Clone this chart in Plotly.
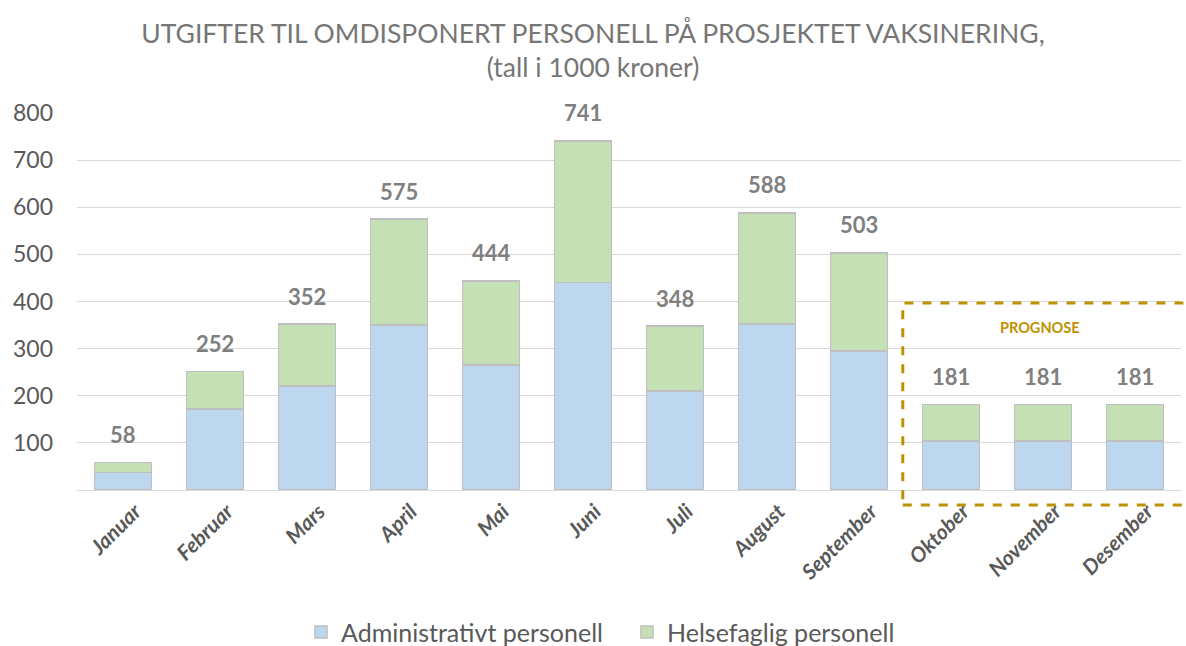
import plotly.graph_objects as go

months = ["Januar", "Februar", "Mars", "April", "Mai", "Juni", "Juli",
          "August", "September", "Oktober", "November", "Desember"]
admin = [37, 172, 221, 350, 265, 440, 210, 352, 295, 104, 104, 104]
helse = [21, 80, 131, 225, 179, 301, 138, 236, 208, 77, 77, 77]
totals = [58, 252, 352, 575, 444, 741, 348, 588, 503, 181, 181, 181]
ytick_vals = [100, 200, 300, 400, 500, 600, 700, 800]

FONT = "Lato"
GREY = "#595959"
LBL = "#7F7F7F"
GOLD = "#BF9000"

fig = go.Figure()
fig.add_trace(go.Bar(x=months, y=admin, name="Administrativt personell",
                     marker=dict(color="#BDD7EE", line=dict(color="#BFBFBF", width=1.5))))
fig.add_trace(go.Bar(x=months, y=helse, name="Helsefaglig personell",
                     marker=dict(color="#C5E0B4", line=dict(color="#BFBFBF", width=1.5))))

for m, t in zip(months, totals):
    fig.add_annotation(x=m, y=t, text=f"<b>{t}</b>", showarrow=False,
                       yanchor="middle", yshift=28,
                       font=dict(family=FONT, size=22, color=LBL))

fig.add_annotation(x=0.872, y=0.43, xref="paper", yref="paper",
                   text="<b>PROGNOSE</b>", showarrow=False,
                   xanchor="center", yanchor="middle",
                   font=dict(family=FONT, size=14.5, color=GOLD))

fig.add_shape(type="rect", xref="paper", yref="paper",
              x0=0.748, x1=1.02, y0=-0.04, y1=0.496,
              line=dict(color=GOLD, width=3, dash="dash"),
              fillcolor="rgba(0,0,0,0)")

fig.update_layout(
    width=1186, height=646,
    barmode="stack", bargap=0.38,
    paper_bgcolor="white", plot_bgcolor="white",
    margin=dict(l=77, r=5, t=113, b=156, autoexpand=False),
    title=dict(text="UTGIFTER TIL OMDISPONERT PERSONELL PÅ PROSJEKTET VAKSINERING,<br>(tall i 1000 kroner)",
               x=0.5, xanchor="center", y=0.9335, yanchor="middle",
               font=dict(family=FONT, size=26.5, color="#767676")),
    legend=dict(orientation="h", xref="container", x=(313 - 12) / 1186, xanchor="left",
                y=-0.377, yanchor="middle", entrywidth=281, entrywidthmode="pixels",
                font=dict(family=FONT, size=25, color=GREY), traceorder="normal",
                itemwidth=30),
    font=dict(family=FONT),
)
fig.update_yaxes(range=[0, 800], tickvals=ytick_vals, showgrid=True,
                 gridcolor="#D9D9D9", gridwidth=1, zeroline=False, automargin=False,
                 showline=False, tickfont=dict(family=FONT, size=23, color=GREY),
                 ticklabelstandoff=23)
fig.update_xaxes(tickangle=-45, showline=True, linecolor="#D9D9D9", linewidth=1,
                 automargin=False, ticklabelshift=12,
                 tickfont=dict(family=FONT, size=21, color=GREY, weight="bold", style="italic"))

fig.write_html("out.html")
